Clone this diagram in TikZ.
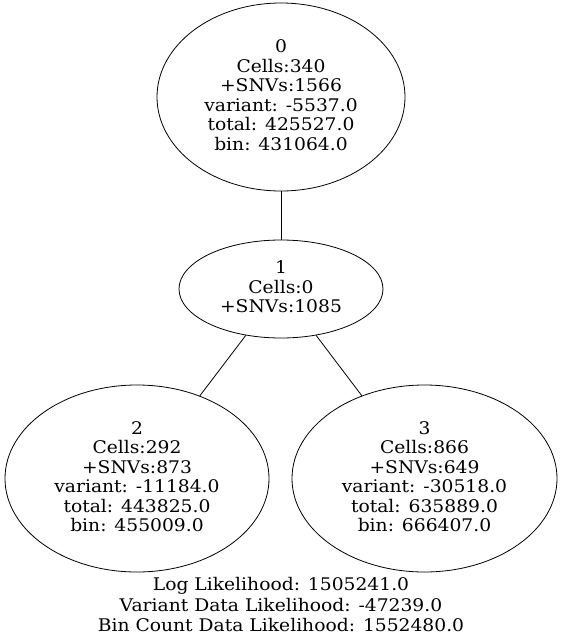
\documentclass[tikz,border=0pt]{standalone}
\usepackage{fontspec}
\setmainfont{DejaVu Serif}[FakeStretch=1.075]
\usetikzlibrary{shapes.geometric}
\begin{document}
\begin{tikzpicture}[x=1pt,y=-1pt,
  tnode/.style={draw,ellipse,inner sep=0pt,align=center,line width=0.8pt,
    text depth=4pt,font=\fontsize{17.4}{19.5}\selectfont},
  edge/.style={line width=0.8pt}]
\useasboundingbox (0,0) rectangle (563,642);
\node[tnode,minimum width=248pt,minimum height=188pt] (n0) at (281,97)
  {0\\Cells:340\\+SNVs:1566\\variant: -5537.0\\total: 425527.0\\bin: 431064.0};
\node[tnode,minimum width=204pt,minimum height=98pt] (n1) at (281,289)
  {1\\Cells:0\\+SNVs:1085};
\node[tnode,minimum width=264pt,minimum height=187pt] (n2) at (137,478.5)
  {2\\Cells:292\\+SNVs:873\\variant: -11184.0\\total: 443825.0\\bin: 455009.0};
\node[tnode,minimum width=265pt,minimum height=187pt] (n3) at (424.5,478.5)
  {3\\Cells:866\\+SNVs:649\\variant: -30518.0\\total: 635889.0\\bin: 666407.0};
\node[align=center,inner sep=0pt,font=\fontsize{17.4}{20.5}\selectfont] (lbl) at (281,604.6)
  {Log Likelihood: 1505241.0\\Variant Data Likelihood: -47239.0\\Bin Count Data Likelihood: 1552480.0};
\draw[edge] (n0) -- (n1);
\draw[edge] (n1) -- (n2);
\draw[edge] (n1) -- (n3);
\end{tikzpicture}
\end{document}
